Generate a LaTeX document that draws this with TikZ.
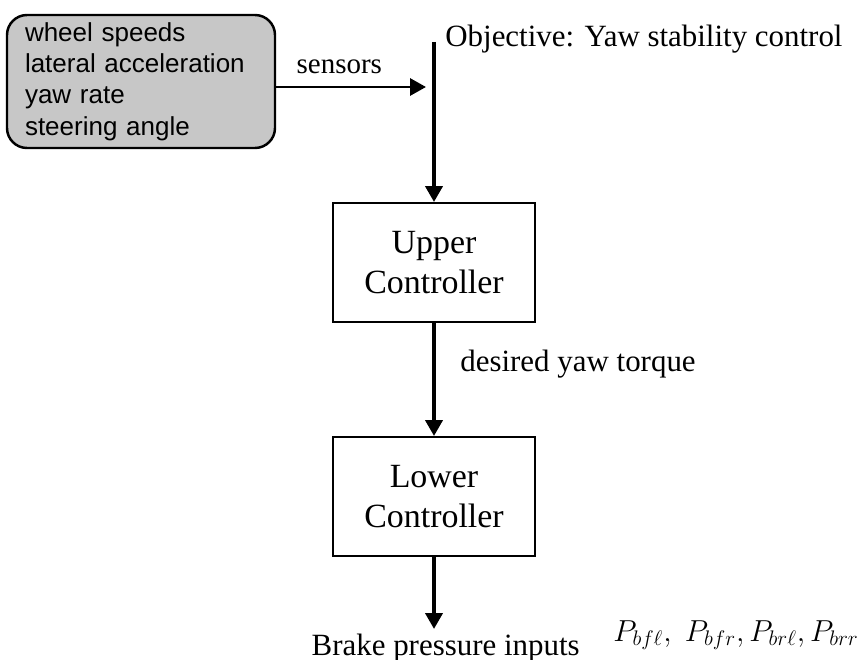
\documentclass[tikz,border=0pt]{standalone}
\usepackage{fontspec}
\setmainfont{Liberation Serif}
\setsansfont{Liberation Sans}
\usetikzlibrary{arrows.meta, positioning, calc}
\tikzset{
  ctrl/.style    = {draw, line width=1.1pt, align=center, minimum width=4.04cm,
                    minimum height=2.38cm, inner sep=0pt,
                    font=\fontsize{19.3}{22.7}\selectfont},
  sensbox/.style = {draw, line width=1.4pt, rounded corners=0.4cm, fill=black!22,
                    align=left, text width=4.64cm, inner xsep=0.36cm,
                    minimum height=2.66cm, font=\sffamily\fontsize{14.8}{17.9}\selectfont},
  note/.style    = {inner sep=0pt, font=\fontsize{17.6}{21}\selectfont},
  flow/.style    = {-{Triangle[length=0.32cm, width=0.34cm]}, line width=2.2pt}
}
\begin{document}
\begin{tikzpicture}
\useasboundingbox (0,0) rectangle (17.3,-13.2);
\node[sensbox] at ( 2.82, -1.63) (sens)  {wheel speeds\\lateral acceleration\\yaw rate\\steering angle};
\node[ctrl]    at ( 8.68, -5.25) (upper) {Upper\\Controller};
\node[ctrl]    at ( 8.68, -9.93) (lower) {Lower\\Controller};
\coordinate (top)  at (8.68, -0.84);
\coordinate (meet) at (8.68, -1.74);
\coordinate (out)  at (8.68, -12.58);
\node[note, anchor=base west] at ( 8.90, -0.94) (goal)   {Objective: Yaw stability control};
\node[note, anchor=base west] at ( 9.20, -7.42) (torque) {desired yaw torque};
\node[note, anchor=base east] at (11.60,-13.10) (brake)  {Brake pressure inputs};
\node[note, anchor=base west] at (12.26,-12.82) (press)  {$P_{bf\ell},\; P_{bfr}, P_{br\ell}, P_{brr}$};

\draw[flow, line width=1.7pt, shorten >=0.16cm] (sens.east |- meet) --
      node[note, pos=0.4, above=0.24cm, font=\fontsize{16.5}{20}\selectfont] {sensors} (meet);
\draw[flow] (top) -- (upper.north);
\draw[flow] (upper.south) -- (lower.north);
\draw[flow] (lower.south) -- (out);
\end{tikzpicture}
\end{document}
